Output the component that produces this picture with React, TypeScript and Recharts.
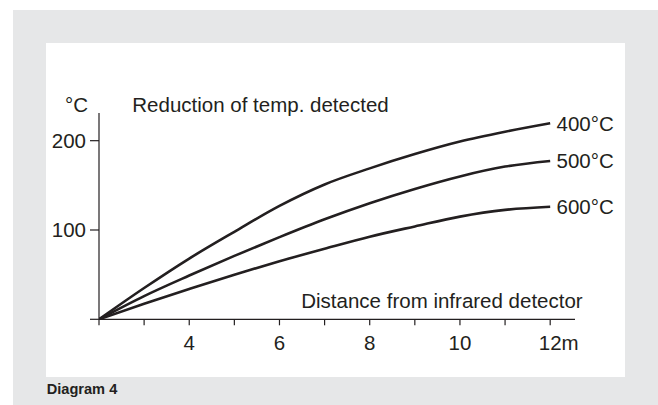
import React from 'react';
import { LineChart, Line, XAxis, YAxis, LabelList } from 'recharts';

// distance from detector (m) and reduction of detected temperature (°C)
const distance = [2, 3, 4, 5, 6, 7, 8, 9, 10, 11, 12];
const temp400 = [0, 35, 68, 98, 127, 151, 169, 185, 199, 210, 219.5];
const temp500 = [0, 26, 49, 71, 92, 112, 130, 146, 160, 171, 177.3];
const temp600 = [0, 17.5, 34, 50, 65, 79, 92.5, 104, 115, 122.5, 126];

const xTicks = [2, 3, 4, 5, 6, 7, 8, 9, 10, 11, 12];
const xTickLabels = [4, 6, 8, 10, 12];
const yTicks = [0, 100, 200];
const yTickLabels = [100, 200];

const seriesNames = ['400°C', '500°C', '600°C'];

const data = distance.map((d, i) => ({
  d,
  t400: temp400[i],
  t500: temp500[i],
  t600: temp600[i],
}));

const ink = '#231f20';
const font = '"Liberation Sans", Arial, Helvetica, sans-serif';
const fs = 20.5;

const XTick = (props: any) => {
  const { x, y, payload } = props;
  const v = payload.value;
  if (!xTickLabels.includes(v)) return null;
  if (v === 12) {
    return (
      <text x={x - 11.4} y={y} dy="0.71em" textAnchor="start" fill={ink} fontSize={fs} fontFamily={font}>
        12m
      </text>
    );
  }
  return (
    <text x={x} y={y} dy="0.71em" textAnchor="middle" fill={ink} fontSize={fs} fontFamily={font}>
      {v}
    </text>
  );
};

const YTick = (props: any) => {
  const { x, y, payload } = props;
  if (!yTickLabels.includes(payload.value)) return null;
  return (
    <text x={x} y={y} dy="0.355em" textAnchor="end" fill={ink} fontSize={fs} fontFamily={font}>
      {payload.value}
    </text>
  );
};

const endLabel = (name: string) => (p: any) => {
  if (p.index !== distance.length - 1) return null;
  return (
    <text x={p.x + 6.3} y={p.y} dy="0.355em" fill={ink} fontSize={fs} fontFamily={font}>
      {name}
    </text>
  );
};

export default function App() {
  return (
    <div style={{ position: 'absolute', left: 0, top: 0, width: 658, height: 405, background: '#fff', fontFamily: font }}>
      <div style={{ position: 'absolute', left: 13, top: 10, width: 645, height: 395, background: '#e6e7e8' }} />
      <div style={{ position: 'absolute', left: 46, top: 43, width: 579, height: 334, background: '#fff' }} />
      <div style={{ position: 'absolute', left: 0, top: 0 }}>
        <LineChart width={658} height={405} data={data} margin={{ top: 113, right: 83, bottom: 55.7, left: 59 }}>
          <XAxis
            dataKey="d"
            type="number"
            domain={[2, 12.55]}
            ticks={xTicks}
            allowDataOverflow
            height={30}
            interval={0}
            tickSize={6}
            tickMargin={10}
            axisLine={{ stroke: ink, strokeWidth: 1.2 }}
            tickLine={{ stroke: ink, strokeWidth: 1.2 }}
            tick={<XTick />}
          />
          <YAxis
            type="number"
            domain={[0, 231]}
            ticks={yTicks}
            allowDataOverflow
            width={40}
            interval={0}
            tickSize={9}
            tickMargin={4}
            axisLine={{ stroke: ink, strokeWidth: 1.2 }}
            tickLine={{ stroke: ink, strokeWidth: 1.2 }}
            tick={<YTick />}
          />
          <Line type="monotone" dataKey="t400" stroke={ink} strokeWidth={2.6} dot={false} isAnimationActive={false}>
            <LabelList dataKey="t400" content={endLabel(seriesNames[0])} />
          </Line>
          <Line type="monotone" dataKey="t500" stroke={ink} strokeWidth={2.6} dot={false} isAnimationActive={false}>
            <LabelList dataKey="t500" content={endLabel(seriesNames[1])} />
          </Line>
          <Line type="monotone" dataKey="t600" stroke={ink} strokeWidth={2.6} dot={false} isAnimationActive={false}>
            <LabelList dataKey="t600" content={endLabel(seriesNames[2])} />
          </Line>
        </LineChart>
      </div>
      <svg width={658} height={405} style={{ position: 'absolute', left: 0, top: 0, pointerEvents: 'none' }}>
        <text x={65} y={111.7} fill={ink} fontSize={fs} fontFamily={font}>°C</text>
        <text x={132.3} y={111.7} fill={ink} fontSize={fs} fontFamily={font}>Reduction of temp. detected</text>
        <text x={582.7} y={308.3} textAnchor="end" fill={ink} fontSize={fs} fontFamily={font}>Distance from infrared detector</text>
        <text x={46.7} y={394} fill={ink} fontSize={14.6} fontWeight="bold" fontFamily={font}>Diagram 4</text>
      </svg>
    </div>
  );
}
